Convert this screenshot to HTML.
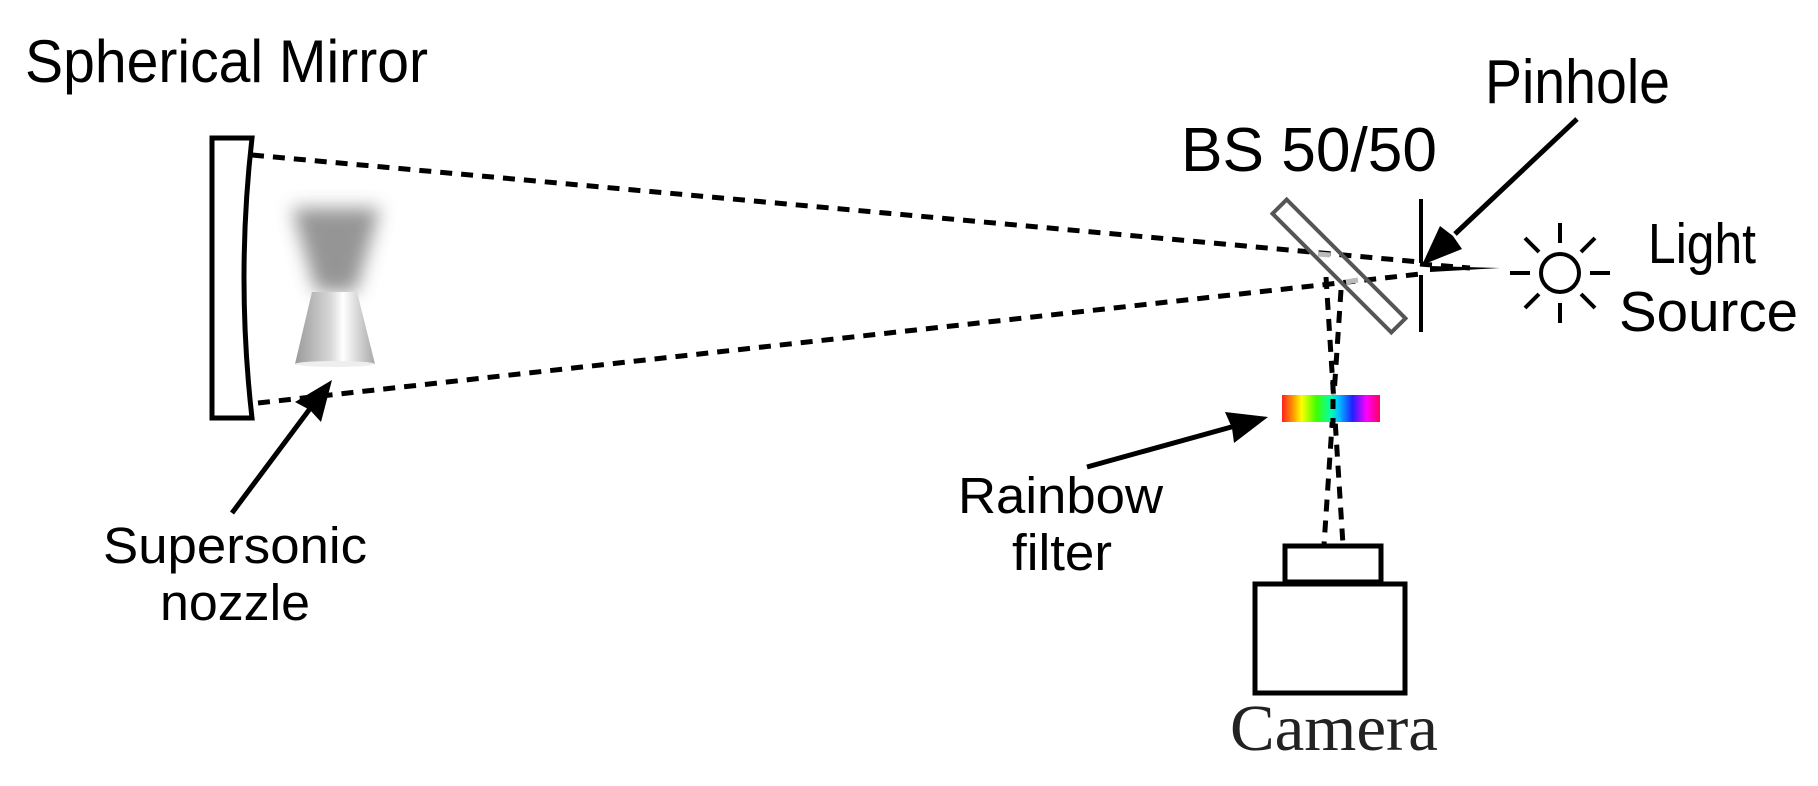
<!DOCTYPE html>
<html><head><meta charset="utf-8"><style>
html,body{margin:0;padding:0;background:#fff;}
svg{display:block;}
text{font-family:"Liberation Sans",Arial,sans-serif;fill:#000;}
</style></head><body>
<svg width="1818" height="786" viewBox="0 0 1818 786" xmlns="http://www.w3.org/2000/svg">
<defs>
<filter id="bl" x="-50%" y="-50%" width="200%" height="200%"><feGaussianBlur stdDeviation="9"/></filter>
<linearGradient id="cone" x1="0" x2="1" y1="0" y2="0">
<stop offset="0" stop-color="#9a9a9a"/><stop offset="0.45" stop-color="#d8d8d8"/><stop offset="0.6" stop-color="#ffffff"/><stop offset="1" stop-color="#a8a8a8"/>
</linearGradient>
<linearGradient id="rb" x1="0" x2="1" y1="0" y2="0">
<stop offset="0" stop-color="#ff2020"/><stop offset="0.12" stop-color="#ffa000"/><stop offset="0.2" stop-color="#ffff00"/><stop offset="0.35" stop-color="#40ff00"/><stop offset="0.5" stop-color="#00ffb0"/><stop offset="0.58" stop-color="#00c0ff"/><stop offset="0.72" stop-color="#2020ff"/><stop offset="0.86" stop-color="#ff00ff"/><stop offset="1" stop-color="#ff0060"/>
</linearGradient>
</defs>

<text x="25" y="82" font-size="60" textLength="403" lengthAdjust="spacingAndGlyphs">Spherical Mirror</text>
<text x="1181" y="171" font-size="62" textLength="256" lengthAdjust="spacingAndGlyphs">BS 50/50</text>
<text x="1485" y="103" font-size="62" textLength="185" lengthAdjust="spacingAndGlyphs">Pinhole</text>
<text x="1648" y="263" font-size="57" textLength="108" lengthAdjust="spacingAndGlyphs">Light</text>
<text x="1619" y="331" font-size="57" textLength="179" lengthAdjust="spacingAndGlyphs">Source</text>
<text x="958" y="513" font-size="51" textLength="205" lengthAdjust="spacingAndGlyphs">Rainbow</text>
<text x="1012" y="570" font-size="51" textLength="100" lengthAdjust="spacingAndGlyphs">filter</text>
<text x="103" y="563" font-size="51" textLength="264" lengthAdjust="spacingAndGlyphs">Supersonic</text>
<text x="160" y="620" font-size="51" textLength="150" lengthAdjust="spacingAndGlyphs">nozzle</text>
<text x="1230" y="750" font-size="66" style="font-family:'Liberation Serif',serif;fill:#222" textLength="208" lengthAdjust="spacingAndGlyphs">Camera</text>

<path d="M212,138 L252,138 Q236,278 252,418 L212,418 Z" fill="none" stroke="#000" stroke-width="5"/>

<polygon points="292,208 380,208 356,292 316,292" fill="#8a8a8a" filter="url(#bl)" opacity="0.9"/>
<polygon points="312,292 357,292 375,364 295,364" fill="url(#cone)"/>
<ellipse cx="335" cy="364" rx="40" ry="3" fill="#eee"/>

<g stroke="#000" stroke-width="5" stroke-dasharray="12,9" fill="none">
<line x1="252" y1="155" x2="1420" y2="262"/>
<line x1="258" y1="403" x2="1420" y2="274"/>
<line x1="1420" y1="264" x2="1470" y2="268"/>
<line x1="1326" y1="277" x2="1343" y2="545"/>
<line x1="1341" y1="290" x2="1324" y2="545"/>
</g>
<polygon points="1430,266 1500,268 1430,272" fill="#000"/>

<rect x="1255" y="256" width="168" height="20" fill="none" stroke="#555" stroke-width="4" transform="rotate(45 1339 266)"/>
<line x1="1318" y1="254" x2="1330" y2="255" stroke="#bbb" stroke-width="5"/>
<line x1="1346" y1="282" x2="1358" y2="280" stroke="#bbb" stroke-width="5"/>

<g stroke="#000" stroke-width="4">
<line x1="1421" y1="199" x2="1421" y2="263"/>
<line x1="1421" y1="275" x2="1421" y2="332"/>
</g>

<g stroke="#000" stroke-width="4" fill="none">
<circle cx="1560" cy="273" r="19"/>
<line x1="1560" y1="223" x2="1560" y2="243"/>
<line x1="1560" y1="303" x2="1560" y2="323"/>
<line x1="1510" y1="273" x2="1530" y2="273"/>
<line x1="1590" y1="273" x2="1610" y2="273"/>
<line x1="1525" y1="238" x2="1539" y2="252"/>
<line x1="1581" y1="294" x2="1595" y2="308"/>
<line x1="1595" y1="238" x2="1581" y2="252"/>
<line x1="1539" y1="294" x2="1525" y2="308"/>
</g>

<rect x="1282" y="395" width="98" height="27" fill="url(#rb)"/>
<line x1="1333" y1="380" x2="1333" y2="430" stroke="#000" stroke-width="5" stroke-dasharray="10,9"/>

<rect x="1285" y="546" width="96" height="36" fill="#fff" stroke="#000" stroke-width="5"/>
<rect x="1255" y="584" width="150" height="109" fill="#fff" stroke="#000" stroke-width="5"/>

<g stroke="#000" stroke-width="5">
<line x1="1577" y1="119" x2="1455" y2="234"/>
<line x1="1087" y1="467" x2="1235" y2="426"/>
<line x1="232" y1="513" x2="312" y2="406"/>
</g>
<polygon points="1422,265 1440,226 1453,236 1462,249" fill="#000"/>
<polygon points="1268,417 1225,412 1232,428 1234,443" fill="#000"/>
<polygon points="332,380 321,422 310,410 295,402" fill="#000"/>
</svg>
</body></html>
